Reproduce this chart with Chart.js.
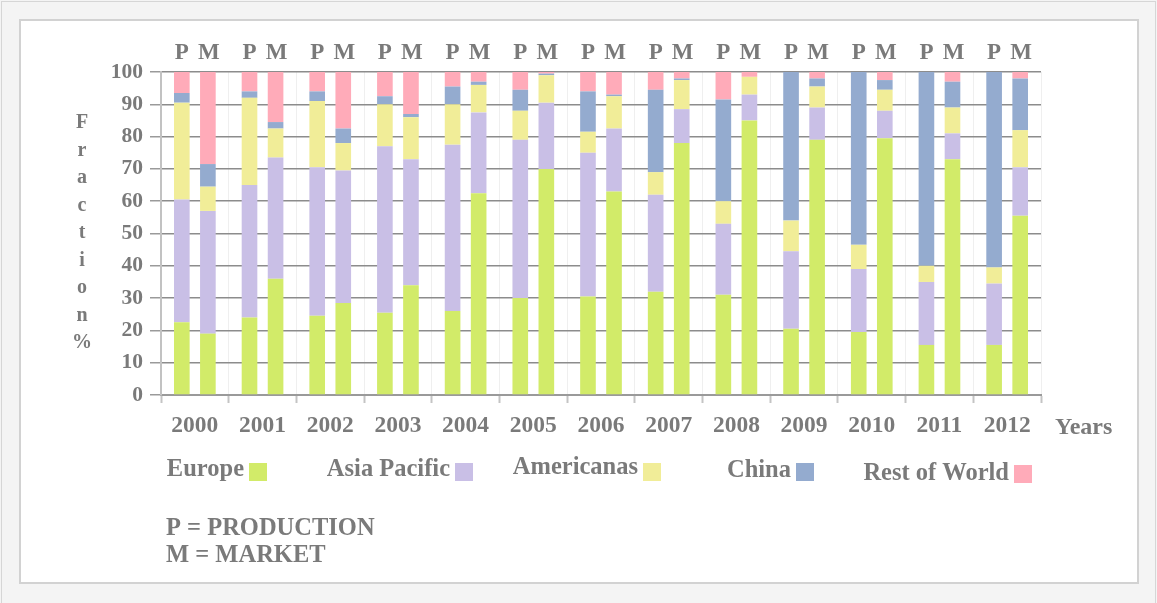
<!DOCTYPE html>
<html>
<head>
<meta charset="utf-8">
<script src="https://cdn.jsdelivr.net/npm/chart.js@4/dist/chart.umd.min.js"></script>
<style>
  html, body { margin: 0; padding: 0; }
  body { width: 1157px; height: 603px; background: #f4f4f4; position: relative; overflow: hidden; }
  #outer { position: absolute; left: 1px; top: 1px; width: 1153px; height: 640px; border: 1px solid #d6d6d6; background: #f4f4f4; }
  #panel { position: absolute; left: 19px; top: 19px; width: 1116px; height: 561px; border: 2px solid #d2d2d2; background: #fff; }
  #wrap { position: absolute; left: 0; top: 0; width: 1157px; height: 603px; }
</style>
</head>
<body>
<div id="outer"></div>
<div id="panel"></div>
<div id="wrap"><canvas id="myChart" width="1157" height="603"></canvas></div>
<script>
// categories
const years = ['2000', '2001', '2002', '2003', '2004', '2005', '2006', '2007', '2008', '2009', '2010', '2011', '2012'];
const yTicks = [0, 10, 20, 30, 40, 50, 60, 70, 80, 90, 100];

// P = production shares (%)
const europeP   = [22.5, 24, 24.5, 25.5, 26, 30, 30.5, 32, 31, 20.5, 19.5, 15.5, 15.5];
const asiaP     = [38, 41, 46, 51.5, 51.5, 49, 44.5, 30, 22, 24, 19.5, 19.5, 19];
const americasP = [30, 27, 20.5, 13, 12.5, 9, 6.5, 7, 7, 9.5, 7.5, 5, 5];
const chinaP    = [3, 2, 3, 2.5, 5.5, 6.5, 12.5, 25.5, 31.5, 46, 53.5, 60, 60.5];
const restP     = [6.5, 6, 6, 7.5, 4.5, 5.5, 6, 5.5, 8.5, 0, 0, 0, 0];

// M = market shares (%)
const europeM   = [19, 36, 28.5, 34, 62.5, 70, 63, 78, 85, 79, 79.5, 73, 55.5];
const asiaM     = [38, 37.5, 41, 39, 25, 20.5, 19.5, 10.5, 8, 10, 8.5, 8, 15];
const americasM = [7.5, 9, 8.5, 13, 8.5, 8.5, 10, 9, 5.5, 6.5, 6.5, 8, 11.5];
const chinaM    = [7, 2, 4.5, 1, 1, 0.5, 0.5, 0.5, 0, 2.5, 3, 8, 16];
const restM     = [28.5, 15.5, 17.5, 13, 3, 0.5, 7, 2, 1.5, 2, 2.5, 3, 2];

const regions = ['Europe', 'Asia Pacific', 'Americanas', 'China', 'Rest of World'];
const colors = ['#d2eb69', '#c9bfe6', '#f1ed98', '#94abcf', '#ffabb9'];

const textColor = '#7a7a7a';
const serif = '"Liberation Serif", "Times New Roman", serif';

const prodSeries = [europeP, asiaP, americasP, chinaP, restP];
const marketSeries = [europeM, asiaM, americasM, chinaM, restM];

const datasets = [];
prodSeries.forEach((vals, i) => {
  datasets.push({ label: regions[i] + ' P', data: vals, backgroundColor: colors[i], stack: 'P' });
});
marketSeries.forEach((vals, i) => {
  datasets.push({ label: regions[i] + ' M', data: vals, backgroundColor: colors[i], stack: 'M' });
});

// extra text: P/M heads, stacked y title, Years, legend, notes
const extras = {
  id: 'extras',
  afterDraw(chart) {
    const ctx = chart.ctx;
    ctx.save();
    ctx.fillStyle = textColor;
    ctx.textBaseline = 'alphabetic';

    // P and M above each bar pair
    ctx.font = 'bold 23px ' + serif;
    ctx.textAlign = 'center';
    chart.getDatasetMeta(0).data.forEach(b => ctx.fillText('P', b.x, 59));
    chart.getDatasetMeta(5).data.forEach(b => ctx.fillText('M', b.x + 1, 59));

    // y title, one letter per line
    ctx.font = 'bold 20px ' + serif;
    'Fraction%'.split('').forEach((ch, i) => ctx.fillText(ch, 82, 128 + i * 27.5));

    // x title
    ctx.font = 'bold 24px ' + serif;
    ctx.textAlign = 'left';
    ctx.fillText('Years', 1055, 434);

    // legend: text then coloured box
    const legendPos = [[249, 463, 476], [455, 463, 476], [643, 463, 474], [796, 463, 477], [1014, 465, 480]];
    ctx.font = 'bold 24.5px ' + serif;
    regions.forEach((name, i) => {
      const [bx, by, base] = legendPos[i];
      ctx.textAlign = 'right';
      ctx.fillStyle = textColor;
      ctx.fillText(name, bx - 5, base);
      ctx.fillStyle = colors[i];
      ctx.fillRect(bx, by, 18, 18);
    });

    // notes
    ctx.fillStyle = textColor;
    ctx.textAlign = 'left';
    ctx.font = 'bold 24.5px ' + serif;
    ctx.fillText('P = PRODUCTION', 166, 535);
    ctx.fillText('M = MARKET', 166, 562);
    ctx.restore();
  }
};

const config = {
  type: 'bar',
  data: { labels: years, datasets: datasets },
  options: {
    responsive: false,
    animation: false,
    layout: { padding: { left: 0, top: 72, right: 116, bottom: 0 } },
    datasets: {
      bar: { categoryPercentage: 0.77, barPercentage: 0.6, borderWidth: 0 }
    },
    plugins: {
      legend: { display: false },
      tooltip: { enabled: false }
    },
    scales: {
      x: {
        stacked: true,
        offset: true,
        afterFit: (scale) => { scale.height = 208; },
        grid: { offset: true, color: '#efefef', lineWidth: 1, tickLength: 8, tickColor: '#c4c4c4', tickWidth: 2 },
        border: { color: '#9a9a9a', width: 2 },
        ticks: {
          color: textColor,
          padding: 9,
          font: { family: serif, size: 23.5, weight: 'bold' }
        }
      },
      y: {
        stacked: true,
        min: 0,
        max: 100,
        afterFit: (scale) => { scale.width = 161; },
        afterBuildTicks: (scale) => { scale.ticks = yTicks.map(v => ({ value: v })); },
        grid: { color: '#8c8c8c', lineWidth: 1.5, tickLength: 11, tickColor: '#9a9a9a' },
        border: { color: '#c2c2c2', width: 2 },
        ticks: {
          color: textColor,
          padding: 7,
          font: { family: serif, size: 21.5, weight: 'bold' }
        }
      }
    }
  },
  plugins: [extras]
};

const myChart = new Chart(document.getElementById('myChart'), config);
</script>
</body>
</html>
